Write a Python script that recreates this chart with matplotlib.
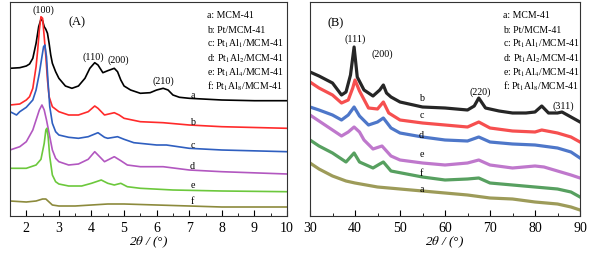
import matplotlib
matplotlib.use("Agg")
import matplotlib.pyplot as plt
from matplotlib.ticker import MultipleLocator

plt.rcParams['font.family'] = ['Liberation Serif', 'DejaVu Serif']
plt.rcParams['mathtext.fontset'] = 'stix'

labels = ["a: MCM-41", "b: Pt/MCM-41", r"c: Pt$_1$Al$_1$/MCM-41",
          r"d: Pt$_1$Al$_2$/MCM-41", r"e: Pt$_1$Al$_4$/MCM-41", r"f: Pt$_1$Al$_8$/MCM-41"]

# panel A: low-angle XRD (intensity, arbitrary units with offsets)
a_x = [1.5, 1.8, 2.0, 2.1, 2.2, 2.3, 2.38, 2.45, 2.5, 2.55, 2.6, 2.65, 2.7, 2.75, 2.8, 2.9,
       3.0, 3.2, 3.4, 3.6, 3.8, 3.95, 4.1, 4.2, 4.35, 4.5, 4.7, 4.8, 4.9, 5.0, 5.2, 5.5, 5.8,
       6.0, 6.2, 6.35, 6.5, 6.7, 7.0, 8.0, 9.0, 10.0]
a_y = [147.7, 148.3, 150, 152, 157.7, 172.7, 189.3, 196.7, 195.3, 189.3, 186.7, 182.7, 172.7,
       161, 152.7, 144.3, 137.7, 130, 127.7, 130, 137.7, 147.7, 153.3, 151, 143.3, 145.3,
       147.7, 144.3, 136, 130, 126, 122.7, 123.3, 126, 127.7, 126, 121, 118.7, 117.7, 116,
       115.3, 115.3]
b_x = [1.5, 1.8, 2.0, 2.1, 2.2, 2.3, 2.35, 2.4, 2.45, 2.5, 2.55, 2.6, 2.65, 2.7, 2.8, 3.0,
       3.3, 3.6, 3.9, 4.1, 4.2, 4.4, 4.7, 4.85, 5.0, 5.5, 6.2, 7.0, 8.0, 10.0]
b_y = [111, 112, 116, 119.3, 127.7, 149.3, 166, 186, 199.3, 197.7, 179.3, 159.3, 136, 119.3,
       109.3, 104.3, 101, 101, 104.3, 110, 107.7, 101, 103.3, 101, 97.7, 94.3, 93.3, 91,
       89.3, 87.7]
c_x = [1.5, 1.6, 1.7, 1.8, 2.0, 2.2, 2.3, 2.4, 2.48, 2.53, 2.57, 2.62, 2.67, 2.72, 2.8, 2.9,
       3.0, 3.3, 3.6, 3.9, 4.2, 4.4, 4.5, 4.8, 5.0, 5.3, 6.0, 6.3, 7.0, 8.0, 10.0]
c_y = [104.3, 102.7, 101, 104.3, 108.7, 116, 126, 142.7, 159.3, 169.3, 171, 159.3, 132.7,
       109.3, 92.7, 84.3, 81, 78.7, 77.7, 79.3, 83.3, 78.7, 77.7, 79.3, 76.7, 73.3, 71, 71,
       67.7, 66, 64.3]
d_x = [1.5, 1.8, 2.0, 2.2, 2.3, 2.4, 2.48, 2.55, 2.62, 2.7, 2.8, 2.9, 3.0, 3.3, 3.6, 3.9,
       4.1, 4.2, 4.4, 4.7, 4.9, 5.1, 5.5, 6.2, 7.0, 8.0, 10.0]
d_y = [66, 69.3, 74.3, 86, 96, 106, 111, 106, 96, 82.7, 66, 57.7, 54.3, 51, 52, 56.7, 64.3,
       61, 54.3, 59.3, 55.3, 51, 49.3, 49.3, 46, 44.3, 42]
e_x = [1.5, 2.0, 2.3, 2.45, 2.55, 2.6, 2.63, 2.67, 2.72, 2.8, 2.9, 3.0, 3.3, 3.7, 4.0, 4.3,
       4.5, 4.7, 4.9, 5.1, 5.5, 6.5, 8.0, 10.0]
e_y = [47.7, 47.7, 51, 56.7, 72.7, 86, 87.7, 79.3, 59.3, 41, 34.3, 32, 30, 30, 32.7, 36,
       32.7, 31, 32.7, 29.3, 27.7, 26, 25, 24.3]
f_x = [1.5, 2.0, 2.3, 2.5, 2.6, 2.7, 2.8, 3.0, 3.5, 4.0, 4.5, 5.0, 6.0, 7.0, 8.0, 10.0]
f_y = [15, 14, 15, 17, 17, 14, 11, 10, 10, 11, 12, 12, 11, 10, 9, 9]

# panel B: wide-angle XRD
wb_x = [30, 32, 35, 37, 38, 39, 39.8, 40.5, 42, 44, 45.5, 46.3, 47, 48, 50, 55, 60, 65, 66.5,
        67.5, 69, 72, 75, 78, 80, 81.5, 83, 85, 86, 88, 90]
wb_y = [144, 140, 133, 121, 124, 141, 169, 139, 126, 120, 126, 131, 123, 119, 114, 109, 108,
        106, 110, 118, 108, 105, 103, 103, 104, 110, 103, 103, 104, 99, 94]
wc_x = [30, 32, 35, 37, 38.5, 39.5, 40, 41, 43, 45, 46.3, 47.5, 50, 55, 60, 65, 67.5, 70,
        75, 80, 81.5, 85, 88, 90]
wc_y = [134, 128, 121, 113, 116, 128, 136, 125, 108, 107, 114, 103, 96, 93, 91, 89, 94, 88,
        85, 84, 86, 83, 79, 74]
wd_x = [30, 32, 35, 37, 38.5, 39.8, 41, 43, 45, 46.3, 48, 50, 55, 60, 65, 67.5, 70, 75, 80,
        85, 88, 90]
wd_y = [109, 106, 101, 96, 101, 109, 100, 91, 94, 98, 88, 83, 79, 76, 75, 79, 74, 72, 71,
        68, 64, 58]
we_x = [30, 32, 35, 37, 38.5, 39.8, 41, 42, 44, 46, 48, 50, 55, 60, 65, 67.5, 70, 75, 80, 82,
        85, 88, 90]
we_y = [101, 95, 86, 80, 84, 89, 84, 76, 67, 70, 60, 56, 53, 51, 53, 56, 51, 48, 50, 49, 45,
        41, 38]
wf_x = [30, 32, 35, 38, 39.2, 39.8, 41, 44, 45.5, 46.3, 48, 55, 60, 65, 67.5, 70, 75, 80,
        85, 88, 90]
wf_y = [76, 70, 63, 54, 60, 63, 54, 48, 52, 54, 45, 39, 36, 37, 38, 33, 31, 29, 27, 24, 19]
wa_x = [30, 32, 35, 38, 40, 45, 50, 55, 60, 65, 70, 75, 80, 85, 88, 90]
wa_y = [53, 47, 40, 35, 33, 29, 27, 25, 23, 21, 18, 17, 14, 12, 9, 6]

colA = ['black', '#ff2a2a', '#2f5fc0', '#b257c0', '#6cc83c', '#8c8a3c']
colB = ['#8c8a3c', 'black', '#f53030', '#2f5fc0', '#b460c4', '#3a8f44']

fig = plt.figure(figsize=(5.97, 2.58), dpi=100)
axA = fig.add_axes([10/597, 1-216/258, 277/597, 214/258])
axB = fig.add_axes([310/597, 1-216/258, 270/597, 214/258])

for (x, y), c in zip([(a_x, a_y), (b_x, b_y), (c_x, c_y), (d_x, d_y), (e_x, e_y), (f_x, f_y)],
                     colA):
    axA.plot(x, y, color=c, lw=1.2)
for (x, y), c in zip([(wa_x, wa_y), (wb_x, wb_y), (wc_x, wc_y), (wd_x, wd_y), (we_x, we_y),
                      (wf_x, wf_y)], colB):
    axB.plot(x, y, color=c, lw=2.3, alpha=0.85, solid_joinstyle='round')

axA.set_xlim(1.5, 10)
axA.set_ylim(0, 214)
axB.set_xlim(30, 90)
axB.set_ylim(0, 214)
axA.xaxis.set_major_locator(MultipleLocator(1))
axA.xaxis.set_minor_locator(MultipleLocator(0.5))
axB.xaxis.set_major_locator(MultipleLocator(10))
axB.xaxis.set_minor_locator(MultipleLocator(5))

for ax in (axA, axB):
    ax.set_yticks([])
    ax.tick_params(axis='x', which='both', direction='in', labelsize=10, pad=4)
    ax.tick_params(axis='x', which='major', length=4)
    ax.tick_params(axis='x', which='minor', length=2.5)
    ax.set_xlabel(r"2$\theta$ / (°)", fontsize=9.5, labelpad=0, style='italic')
    for s in ax.spines.values():
        s.set_linewidth(0.8)
        s.set_color('#333333')
    for i, t in enumerate(labels):
        ax.text(0.712 if ax is axA else 0.715, 0.935 - i * 0.066, t, transform=ax.transAxes,
                fontsize=7.0, va='center')

fs = 7.2
axA.text(3.57, 194, "(A)", fontsize=9, ha='center', va='center')
for x, y, t in [(2.52, 206, "(100)"), (4.05, 159, "(110)"), (4.83, 156, "(200)"),
                (6.2, 135, "(210)")]:
    axA.text(x, y, t, fontsize=fs, ha='center', va='center')
for t, y in zip("abcdef", [121, 94, 71, 50, 31, 14]):
    axA.text(7.1, y, t, fontsize=fs, ha='center', va='center')

axB.text(35.6, 193, "(B)", fontsize=9, ha='center', va='center')
for x, y, t in [(40, 177, "(111)"), (46.1, 162, "(200)"), (67.8, 124, "(220)"),
                (86.3, 110, "(311)")]:
    axB.text(x, y, t, fontsize=fs, ha='center', va='center')
for t, y in zip("bcdefa", [118, 101, 81, 62, 43, 26]):
    axB.text(54.8, y, t, fontsize=fs, ha='center', va='center')

fig.savefig("out.png", dpi=100)
